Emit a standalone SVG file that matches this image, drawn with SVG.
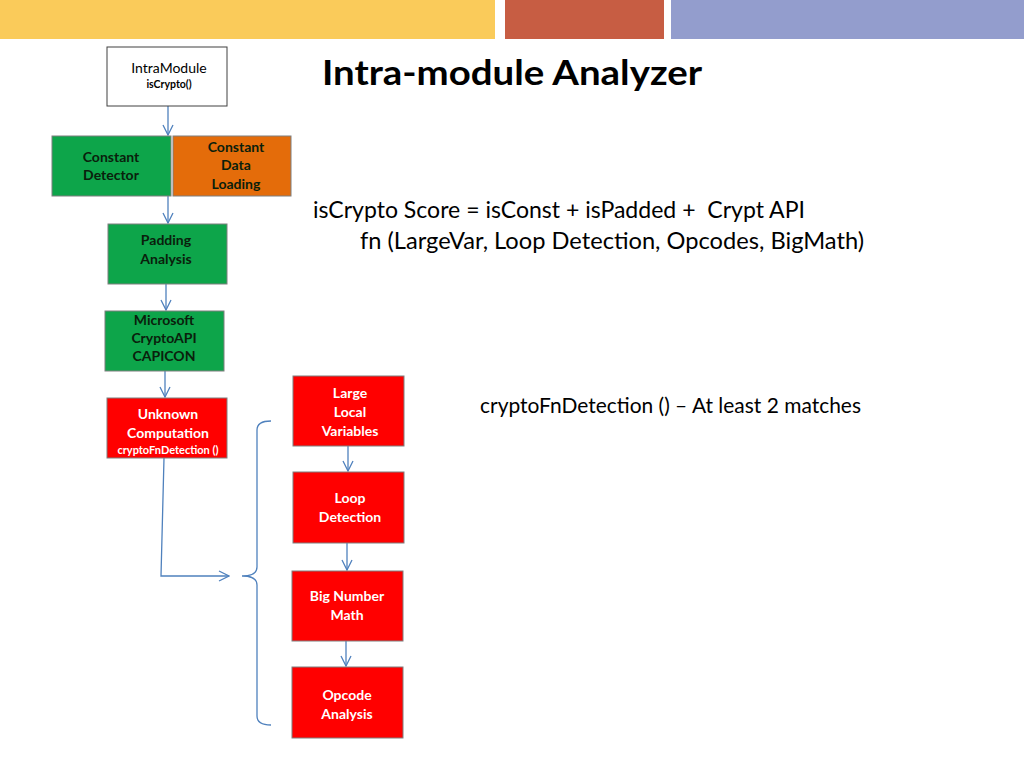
<svg xmlns="http://www.w3.org/2000/svg" width="1024" height="768" viewBox="0 0 1024 768">
<defs>
<style>
.t{font-family:Lato,"Open Sans","Liberation Sans",sans-serif;}
.bx{stroke:#7f7f7f;stroke-width:1;}
.g{fill:#0da54a;}
.o{fill:#e46c0a;}
.r{fill:#ff0000;}
.lb{font-family:Lato,"Open Sans","Liberation Sans",sans-serif;font-weight:bold;font-size:14px;text-anchor:middle;}
.dk{fill:#0a200c;}
.wt{fill:#ffffff;}
.c{fill:none;stroke:#4f81bd;stroke-width:1.3;}
</style>
<marker id="ah" viewBox="0 0 12 12" refX="11" refY="6" markerWidth="12" markerHeight="12" markerUnits="userSpaceOnUse" orient="auto">
<path d="M1,1 L11,6 L1,11" fill="none" stroke="#4f81bd" stroke-width="1.3"/>
</marker>
</defs>
<rect width="1024" height="768" fill="#ffffff"/>
<rect x="0" y="0" width="495" height="39" fill="#facb5a"/>
<rect x="505" y="0" width="159" height="39" fill="#c75d43"/>
<rect x="671" y="0" width="353" height="39" fill="#939dcd"/>

<text class="t" x="322" y="85" font-size="35" font-weight="bold" fill="#000" textLength="380" lengthAdjust="spacingAndGlyphs">Intra-module Analyzer</text>
<text class="t" x="313" y="218" font-size="23" fill="#000" textLength="492" lengthAdjust="spacingAndGlyphs">isCrypto Score = isConst + isPadded +&#160; Crypt API</text>
<text class="t" x="360" y="249" font-size="23.5" fill="#000" textLength="504" lengthAdjust="spacingAndGlyphs">fn (LargeVar, Loop Detection, Opcodes, BigMath)</text>
<text class="t" x="480" y="413" font-size="21" fill="#000" textLength="381" lengthAdjust="spacingAndGlyphs">cryptoFnDetection () – At least 2 matches</text>

<g id="connectors">
<line class="c" x1="168" y1="106" x2="168" y2="135" marker-end="url(#ah)"/>
<line class="c" x1="168" y1="196" x2="168" y2="223" marker-end="url(#ah)"/>
<line class="c" x1="166" y1="284" x2="166" y2="310" marker-end="url(#ah)"/>
<line class="c" x1="165" y1="371" x2="165" y2="397" marker-end="url(#ah)"/>
<polyline class="c" points="164,458 161,576 229,576" marker-end="url(#ah)"/>
<line class="c" x1="348" y1="446" x2="348" y2="471" marker-end="url(#ah)"/>
<line class="c" x1="347" y1="543" x2="347" y2="570" marker-end="url(#ah)"/>
<line class="c" x1="346" y1="641" x2="346" y2="666" marker-end="url(#ah)"/>
<path class="c" d="M271,421 Q257,421 257,430 L257,567 Q257,576 242,576 Q257,576 257,585 L257,716 Q257,725 271,725"/>
</g>

<g id="intramodule">
<rect x="107" y="47" width="120" height="59" fill="#ffffff" stroke="#404040"/>
<text class="t" x="169" y="73" font-size="14" text-anchor="middle" fill="#000">IntraModule</text>
<text class="t" x="169" y="88" font-size="10.5" font-weight="bold" text-anchor="middle" fill="#000">isCrypto()</text>
</g>
<g id="constant-detector">
<rect class="bx g" x="52" y="136" width="119" height="60"/>
<text class="lb dk" x="111" y="162">Constant</text>
<text class="lb dk" x="111" y="180">Detector</text>
</g>
<g id="constant-data-loading">
<rect class="bx o" x="173" y="136" width="118" height="60"/>
<text class="lb dk" x="236" y="152">Constant</text>
<text class="lb dk" x="236" y="170">Data</text>
<text class="lb dk" x="236" y="189">Loading</text>
</g>
<g id="padding-analysis">
<rect class="bx g" x="108" y="224" width="119" height="60"/>
<text class="lb dk" x="166" y="245">Padding</text>
<text class="lb dk" x="166" y="264">Analysis</text>
</g>
<g id="microsoft-cryptoapi">
<rect class="bx g" x="105" y="311" width="119" height="60"/>
<text class="lb dk" x="164" y="325">Microsoft</text>
<text class="lb dk" x="164" y="343">CryptoAPI</text>
<text class="lb dk" x="164" y="361">CAPICON</text>
</g>
<g id="unknown-computation">
<rect class="bx r" x="107" y="398" width="120" height="60"/>
<text class="lb wt" x="168" y="419">Unknown</text>
<text class="lb wt" x="168" y="438">Computation</text>
<text class="t wt" x="168" y="454" font-size="11" font-weight="bold" text-anchor="middle">cryptoFnDetection ()</text>
</g>
<g id="large-local-variables">
<rect class="bx r" x="293" y="376" width="111" height="70"/>
<text class="lb wt" x="350" y="398">Large</text>
<text class="lb wt" x="350" y="417">Local</text>
<text class="lb wt" x="350" y="436">Variables</text>
</g>
<g id="loop-detection">
<rect class="bx r" x="293" y="472" width="111" height="71"/>
<text class="lb wt" x="350" y="503">Loop</text>
<text class="lb wt" x="350" y="522">Detection</text>
</g>
<g id="big-number-math">
<rect class="bx r" x="292" y="571" width="111" height="70"/>
<text class="lb wt" x="347" y="601">Big Number</text>
<text class="lb wt" x="347" y="620">Math</text>
</g>
<g id="opcode-analysis">
<rect class="bx r" x="292" y="667" width="111" height="71"/>
<text class="lb wt" x="347" y="700">Opcode</text>
<text class="lb wt" x="347" y="719">Analysis</text>
</g>
</svg>
